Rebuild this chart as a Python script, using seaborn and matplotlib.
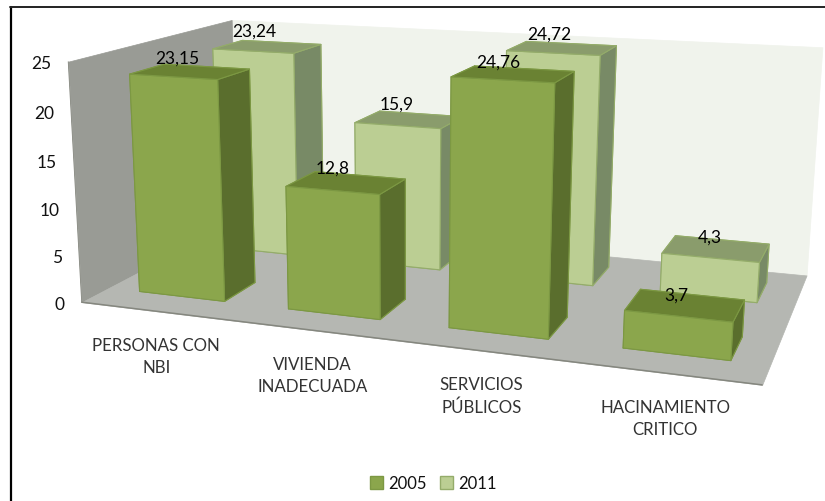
import numpy as np
import matplotlib
matplotlib.use("Agg")
import matplotlib.pyplot as plt
from matplotlib.lines import Line2D
from matplotlib.patches import Patch
from mpl_toolkits.mplot3d.art3d import Poly3DCollection
import seaborn as sns

# ---------- data ----------
categories = ["PERSONAS CON\nNBI", "VIVIENDA\nINADECUADA", "SERVICIOS\nPÚBLICOS", "HACINAMIENTO\nCRITICO"]
series_names = ["2005", "2011"]
values_2005 = [23.15, 12.8, 24.76, 3.7]
values_2011 = [23.24, 15.9, 24.72, 4.3]
labels_2005 = ["23,15", "12,8", "24,76", "3,7"]
labels_2011 = ["23,24", "15,9", "24,72", "4,3"]
z_ticks = [0, 5, 10, 15, 20, 25]

# ---------- style / camera calibration ----------
W, H = 825, 502
Z_MAX = 25
N = len(categories)
# room corners (u, v, z) and where the original chart shows them on the picture
CAL_ROOM = np.array([[0,0,0],[N,0,0],[N,1,0],[0,1,0],[0,0,Z_MAX],[0,1,Z_MAX],[N,1,Z_MAX]], float)
CAL_PIX = np.array([[83,301],[762,388],[807,274],[236,224],[67,63],[233,20],[822,49]], float)

BAR_U0 = {"2005": 0.215, "2011": 0.205}
BAR_DU = 0.58
ROW_V = {"2005": (0.15, 0.20), "2011": (0.67, 0.21)}
C_2005 = dict(front="#8BA64C", top="#6A8233", side="#5A6E2D", edge="#7C9843")
C_2011 = dict(front="#BBCE93", top="#8A9C6C", side="#788A66", edge="#94AC6A")
C_BACK, C_LEFT, C_FLOOR = "#F0F3EC", "#999B95", "#B5B7B2"
# pixel offsets of the texts from the point of the chart they belong to
LABEL_OFF = {"2005": [(13, -7), (18, -4), (24, -4), (36, 5)],
             "2011": [(12, -10), (17, -7), (23, -8), (34, 1)]}
CAT_OFF = (1, 45)
TICK_OFF = (-17, 1.5)

sns.set_theme(style="white")
plt.rcParams["font.family"] = ["Lato", "DejaVu Sans"]


def fit_camera(room, pix):
    s = np.array([N, 1, Z_MAX], float)
    r = room / s
    rows = []
    for (a, b, c), (x, y) in zip(r, pix):
        rows.append([a, b, c, 1, 0, 0, 0, 0, -x*a, -x*b, -x*c, -x])
        rows.append([0, 0, 0, 0, a, b, c, 1, -y*a, -y*b, -y*c, -y])
    P = np.linalg.svd(np.array(rows))[2][-1].reshape(3, 4)
    P = P @ np.diag([1/s[0], 1/s[1], 1/s[2], 1])
    P /= P[2, 3]
    return P


CAM = fit_camera(CAL_ROOM, CAL_PIX)


def project(u, v, z):
    p = CAM @ np.array([u, v, z, 1.0])
    return p[0] / p[2], p[1] / p[2]


fig = plt.figure(figsize=(W/100, H/100), dpi=100, facecolor="white")
ax = fig.add_axes([0, 0, 1, 1], projection="3d")
ax.apply_aspect = lambda position=None: None
ax.set_axis_off()
ax.computed_zorder = False


def camera_proj():
    vl = ax.viewLim
    sx = (vl.x1 - vl.x0) / W
    sy = (vl.y1 - vl.y0) / H
    A = np.array([[sx, 0, vl.x0], [0, -sy, vl.y1], [0, 0, 1]])
    Q = A @ CAM
    depth = np.array([-0.05, 1.0, -0.01, 0.0])
    return np.vstack([Q[0], Q[1], depth, Q[2]])


ax.get_proj = camera_proj


def put_text(px, py, s, **kw):
    fig.text(px / W, 1 - py / H, s, ha=kw.pop("ha", "center"), va=kw.pop("va", "center"), **kw)


# room
floor = [[(0, 0, 0), (N, 0, 0), (N, 1, 0), (0, 1, 0)]]
left = [[(0, 0, 0), (0, 1, 0), (0, 1, Z_MAX), (0, 0, Z_MAX)]]
back = [[(0, 1, 0), (N, 1, 0), (N, 1, Z_MAX), (0, 1, Z_MAX)]]
for poly, col, zo in [(back, C_BACK, 0.1), (left, C_LEFT, 0.2), (floor, C_FLOOR, 0.3)]:
    ax.add_collection3d(Poly3DCollection(poly, facecolors=col, edgecolors=col, linewidths=0.5, zorder=zo))
ax.plot([0, N, N], [0, 0, 1], [0, 0, 0], color="#85877F", lw=1.1, zorder=0.4)
ax.plot([0, 0], [0, 0], [0, Z_MAX], color="#85877F", lw=0.6, zorder=0.4)


def draw_row(vals, name, colors, zo):
    v0, dv = ROW_V[name]
    u = np.arange(N) + BAR_U0[name]
    # bottom, top, front, back, left, right
    faces = [colors["side"], colors["top"], colors["front"], colors["front"], colors["side"], colors["side"]]
    ax.bar3d(u, np.full(N, v0), np.zeros(N), BAR_DU, dv, vals,
             color=faces * N, shade=False, edgecolor=colors["edge"], linewidth=0.8, zorder=zo)


draw_row(values_2011, "2011", C_2011, 1)
draw_row(values_2005, "2005", C_2005, 2)

# value labels
for name, vals, labs in [("2011", values_2011, labels_2011), ("2005", values_2005, labels_2005)]:
    v0, dv = ROW_V[name]
    for i, (val, lab) in enumerate(zip(vals, labs)):
        px, py = project(i + BAR_U0[name], v0 + dv, val)
        ox, oy = LABEL_OFF[name][i]
        put_text(px + ox, py + oy, lab, fontsize=12.5, color="black")

# z tick labels
for z in z_ticks:
    px, py = project(0, 0, z)
    put_text(px + TICK_OFF[0], py + TICK_OFF[1], str(z), ha="right", fontsize=12.5, color="#111111")

# category labels
for i, cat in enumerate(categories):
    px, py = project(i + 0.5, 0, 0)
    put_text(px + CAT_OFF[0], py + CAT_OFF[1], cat, fontsize=12.2, color="#333333",
             linespacing=1.5, multialignment="center")

# legend
handles = [Patch(facecolor=C_2005["front"], edgecolor=C_2005["edge"], label=series_names[0]),
           Patch(facecolor=C_2011["front"], edgecolor=C_2011["edge"], label=series_names[1])]
fig.legend(handles=handles, loc="center", bbox_to_anchor=(433/W, 1-484/H), ncol=2, frameon=False,
           fontsize=12, handlelength=0.8, handleheight=0.8, handletextpad=0.3, columnspacing=0.8,
           labelcolor="#111111")

# frame (top and left only)
fig.add_artist(Line2D([11/W, 11/W], [0, 1-8/H], color="black", lw=1.6))
fig.add_artist(Line2D([10/W, 1], [1-8/H, 1-8/H], color="#222222", lw=1.4))

fig.savefig("out.png", dpi=100, facecolor="white")
